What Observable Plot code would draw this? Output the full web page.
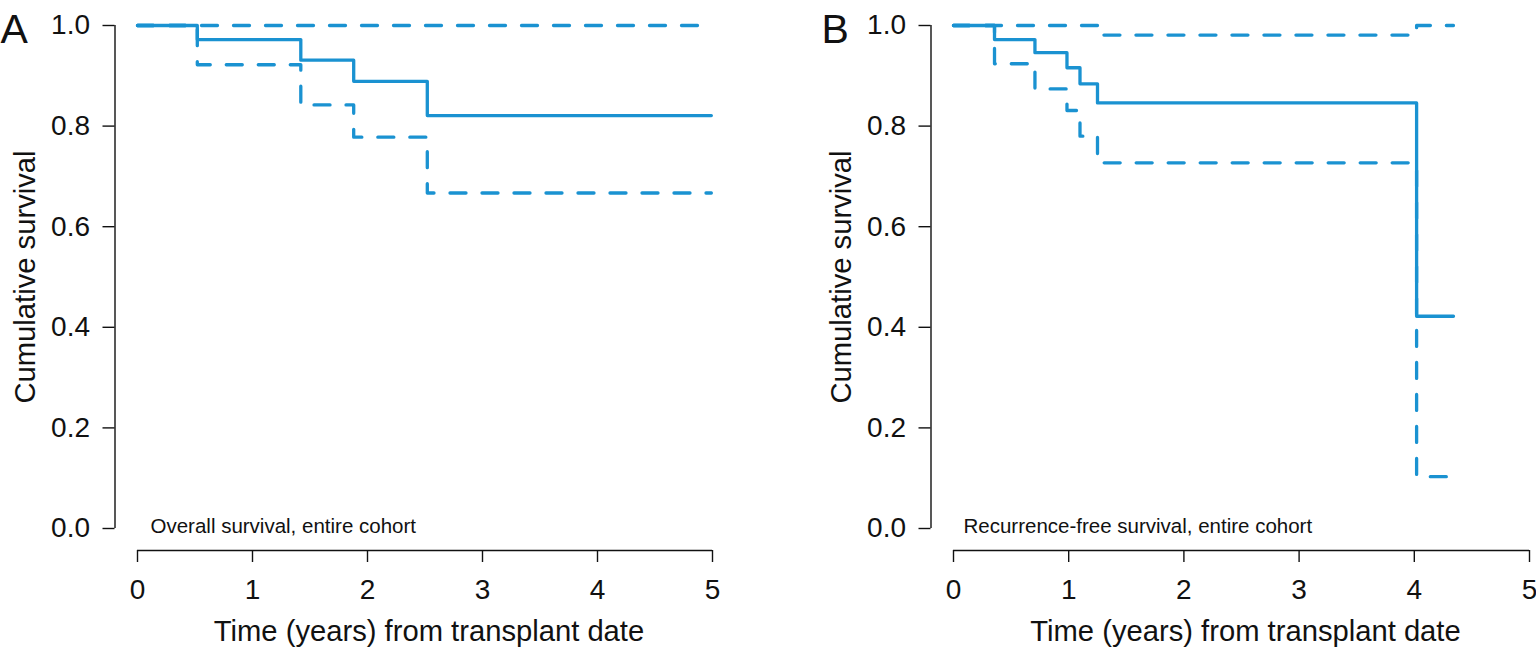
<!DOCTYPE html>
<html><head><meta charset="utf-8">
<script src="https://cdn.jsdelivr.net/npm/d3@7"></script>
<script src="https://cdn.jsdelivr.net/npm/@observablehq/plot@0.6"></script>
<style>
html,body{margin:0;padding:0;background:#fff;}
#wrap{display:flex;width:1536px;height:648px;overflow:hidden;}
#wrap svg{overflow:visible;flex:none;}
</style></head><body><div id="wrap"></div>
<script>
// Panel A: Overall survival
const timeA  = [0, 0.52, 1.42, 1.88, 2.52, 4.99];
const survA  = [1, 0.972, 0.931, 0.889, 0.821, 0.821];
const upperA = [1, 1, 1, 1, 1, 1];
const lowerA = [1, 0.922, 0.842, 0.778, 0.667, 0.667];

// Panel B: Recurrence-free survival
const timeB  = [0, 0.356, 0.707, 0.985, 1.098, 1.25, 4.02, 4.34];
const survB  = [1, 0.972, 0.946, 0.916, 0.884, 0.846, 0.422, 0.422];
const upperB = [1, 1, 1, 1, 1, 0.981, 1, 1];
const lowerB = [1, 0.924, 0.874, 0.831, 0.780, 0.727, 0.103, 0.103];

const xTicks = [0, 1, 2, 3, 4, 5];
const yTicks = [0, 0.2, 0.4, 0.6, 0.8, 1.0];
const xTitle = "Time (years) from transplant date";
const yTitle = "Cumulative survival";

const blue = "#1a92d1";
const ink = "#111";

function panel({time, surv, upper, lower, letter, note, marginLeft, marginRight, letterDx, noteDx}) {
  const rows = time.map((t, i) => ({t, s: surv[i], u: upper[i], l: lower[i]}));
  return Plot.plot({
    width: 768, height: 648,
    marginLeft, marginRight, marginTop: 25, marginBottom: 120,
    x: {domain: [0, 5]},
    y: {domain: [0, 1]},
    style: {fontFamily: "'Liberation Sans', Arial, Helvetica, sans-serif", color: ink, background: "#fff", overflow: "visible"},
    marks: [
      Plot.ruleX([0], {y1: 0, y2: 1, dx: -22.5, stroke: ink, strokeWidth: 1.4}),
      Plot.ruleY([0], {x1: 0, x2: 5, dy: 22, stroke: ink, strokeWidth: 1.4}),
      Plot.axisY({ticks: yTicks, tickFormat: d => d.toFixed(1), tickSize: 12, tickPadding: 13, dx: -22.5, fontSize: 28, label: null, stroke: ink, strokeWidth: 1.4, fill: ink}),
      Plot.axisX({ticks: xTicks, tickFormat: d => String(d), tickSize: 12, tickPadding: 17, dy: 22, fontSize: 28, label: null, stroke: ink, strokeWidth: 1.4, fill: ink}),
      Plot.line(rows, {x: "t", y: "u", curve: "step-after", stroke: blue, strokeWidth: 3.3, strokeDasharray: "16,16"}),
      Plot.line(rows, {x: "t", y: "l", curve: "step-after", stroke: blue, strokeWidth: 3.3, strokeDasharray: "16,16"}),
      Plot.line(rows, {x: "t", y: "s", curve: "step-after", stroke: blue, strokeWidth: 3.3}),
      Plot.text([note], {text: d => d, frameAnchor: "bottom-left", textAnchor: "start", lineAnchor: "bottom", dx: noteDx, dy: 4, fontSize: 20.5, fill: ink}),
      Plot.text([letter], {text: d => d, frameAnchor: "top-left", textAnchor: "start", lineAnchor: "bottom", dx: letterDx, dy: 17, fontSize: 41, fill: ink}),
      Plot.text([yTitle], {text: d => d, frameAnchor: "left", rotate: -90, textAnchor: "middle", lineAnchor: "middle", dx: -112, fontSize: 29.2, fill: ink}),
      Plot.text([xTitle], {text: d => d, frameAnchor: "bottom", textAnchor: "middle", lineAnchor: "bottom", dx: 4, dy: 112, fontSize: 29.2, fill: ink})
    ]
  });
}

const wrap = document.getElementById("wrap");
wrap.append(panel({time: timeA, surv: survA, upper: upperA, lower: lowerA, letter: "A",
  note: "Overall survival, entire cohort", marginLeft: 137, marginRight: 56, letterDx: -137, noteDx: 13}));
wrap.append(panel({time: timeB, surv: survB, upper: upperB, lower: lowerB, letter: "B",
  note: "Recurrence-free survival, entire cohort", marginLeft: 185, marginRight: 7, letterDx: -132, noteDx: 10}));
</script></body></html>
